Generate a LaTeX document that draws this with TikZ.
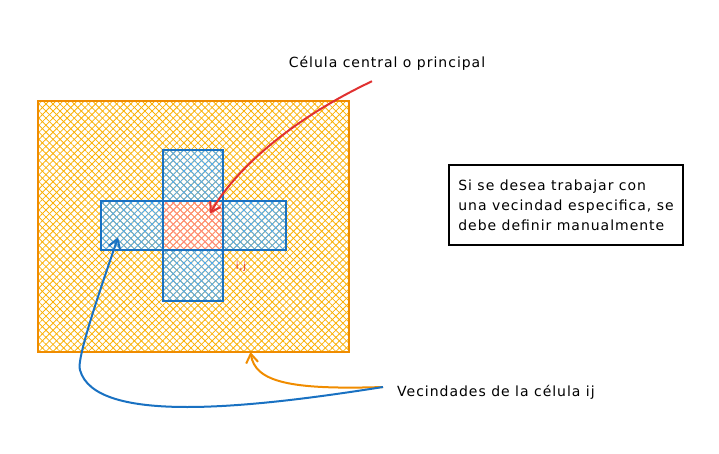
\documentclass[tikz,border=0pt]{standalone}
\usepackage{fontspec}
\setmainfont[LetterSpace=7]{DejaVu Sans}
\usepackage{xcolor}
\usepackage{tikz}
\usetikzlibrary{patterns.meta,arrows.meta,positioning,calc}

\definecolor{naranja}{HTML}{F08C00}
\definecolor{naranjaclaro}{HTML}{FAB005}
\definecolor{azul}{HTML}{1971C2}
\definecolor{azulclaro}{HTML}{4DABF7}
\definecolor{rojo}{HTML}{E03131}
\definecolor{rojoclaro}{HTML}{FF8787}

\tikzset{
  celda/.style 2 args={draw=#1,line width=2pt,inner sep=0pt,outer sep=0pt,
    preaction={pattern={Lines[angle=45,distance=5pt,line width=0.8pt]},pattern color=#2},
    pattern={Lines[angle=-45,distance=5pt,line width=0.8pt]},pattern color=#2},
  flecha/.style={line width=2pt,-{Straight Barb[length=9pt,width=12pt]}},
  texto/.style={font=\fontsize{14}{20}\selectfont,inner sep=0pt}
}

\begin{document}
\begin{tikzpicture}[x=1pt,y=-1pt]
    \useasboundingbox (0,0) rectangle (719,454);

    % malla completa
    \node[celda={naranja}{naranjaclaro},minimum width=311pt,minimum height=251pt] (malla) at (193.5,226.5) {};

    % celula central y vecinas
    \node[celda={rojo}{rojoclaro},minimum width=60pt,minimum height=49pt] (centro) at (193,225.5) {};
    \node[celda={azul}{azulclaro},minimum width=60pt,minimum height=51pt,above=0pt of centro] (arriba) {};
    \node[celda={azul}{azulclaro},minimum width=60pt,minimum height=51pt,below=0pt of centro] (abajo) {};
    \node[celda={azul}{azulclaro},minimum width=62pt,minimum height=49pt,left=0pt of centro] (izq) {};
    \node[celda={azul}{azulclaro},minimum width=63pt,minimum height=49pt,right=0pt of centro] (der) {};
    \node[texto,text=rojo,font=\fontsize{10}{10}\selectfont] (ij) at (241,267) {i,j};

    % textos
    \node[texto] (titulo) at (387,63) {Célula central o principal};
    \node[texto,draw=black,line width=2pt,minimum width=234pt,minimum height=80pt,align=left] (nota) at (566,205)
        {Si se desea trabajar con\\una vecindad especifica, se\\debe definir manualmente};
    \node[texto,anchor=west] (vec) at (397,392) {Vecindades de la célula ij};

    % flechas
    \coordinate (inicio) at ([xshift=-14pt,yshift=5pt]vec.west);
    \draw[flecha,rojo] ([xshift=-15pt,yshift=-11pt]titulo.south) .. controls (290,120) and (235,170) .. ([xshift=17pt,yshift=12pt]centro.center);
    \draw[flecha,naranja] (inicio) .. controls (290,390) and (255,382) .. ([xshift=57pt]malla.south);
    \draw[flecha,azul] (inicio) .. controls (250,408) and (95,425) .. (80,370)
        .. controls (76,360) and (100,290) .. ([xshift=-14pt,yshift=-12pt]izq.center);
\end{tikzpicture}
\end{document}
